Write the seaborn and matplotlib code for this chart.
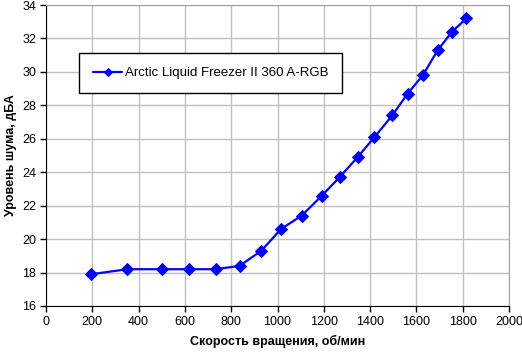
import numpy as np
import pandas as pd
import seaborn as sns
import matplotlib.pyplot as plt

# скорость вращения и уровень шума
rpm = [195, 352, 503, 617, 734, 836, 930, 1015, 1104, 1192, 1268, 1346, 1419, 1496, 1562, 1628, 1692, 1754, 1816]
noise = [17.9, 18.2, 18.2, 18.2, 18.2, 18.4, 19.3, 20.6, 21.4, 22.6, 23.7, 24.9, 26.1, 27.4, 28.7, 29.8, 31.3, 32.4, 33.2]
label = 'Arctic Liquid Freezer II 360 A-RGB'

df = pd.DataFrame({'rpm': rpm, 'noise': noise, 'name': label})

sns.set_style('white')
plt.rcParams['font.family'] = ['Liberation Sans', 'DejaVu Sans']
plt.rcParams['text.color'] = 'black'
plt.rcParams['axes.labelcolor'] = 'black'
plt.rcParams['xtick.color'] = 'black'
plt.rcParams['ytick.color'] = 'black'

fig = plt.figure(figsize=(5.22, 3.56), dpi=100)
ax = fig.add_axes([46 / 522, 1 - 306 / 356, 463 / 522, 301 / 356])

sns.lineplot(data=df, x='rpm', y='noise', hue='name', palette=['#0000ff'],
             marker='D', markersize=6, markeredgecolor='#0000ff', linewidth=1.6, ax=ax)

ax.set_xlim(0, 2000)
ax.set_ylim(16, 34)
ax.set_xticks(np.arange(0, 2001, 200))
ax.set_yticks(np.arange(16, 35, 2))
ax.grid(True, color='#c0c0c0', linewidth=1)
ax.set_axisbelow(True)

for s in ['top', 'right']:
    ax.spines[s].set_color('#a0a0a0')
for s in ['left', 'bottom']:
    ax.spines[s].set_color('black')
ax.tick_params(axis='both', direction='out', length=4, width=1, color='black',
               labelsize=9, pad=3, bottom=True, left=True)

ax.set_xlabel('Скорость вращения, об/мин', fontsize=9, fontweight='bold', labelpad=5)
ax.set_ylabel('Уровень шума, дБА', fontsize=9, fontweight='bold', labelpad=4)

leg = ax.legend(loc='upper left', bbox_to_anchor=(0.072, 0.84), fontsize=9.5,
                frameon=True, fancybox=False, borderpad=1.05, handlelength=2.2,
                handletextpad=0.2, borderaxespad=0, markerscale=0.7)
leg.get_frame().set_edgecolor('black')
leg.get_frame().set_linewidth(1)
leg.get_frame().set_alpha(1)

fig.savefig('out.png', dpi=100)
